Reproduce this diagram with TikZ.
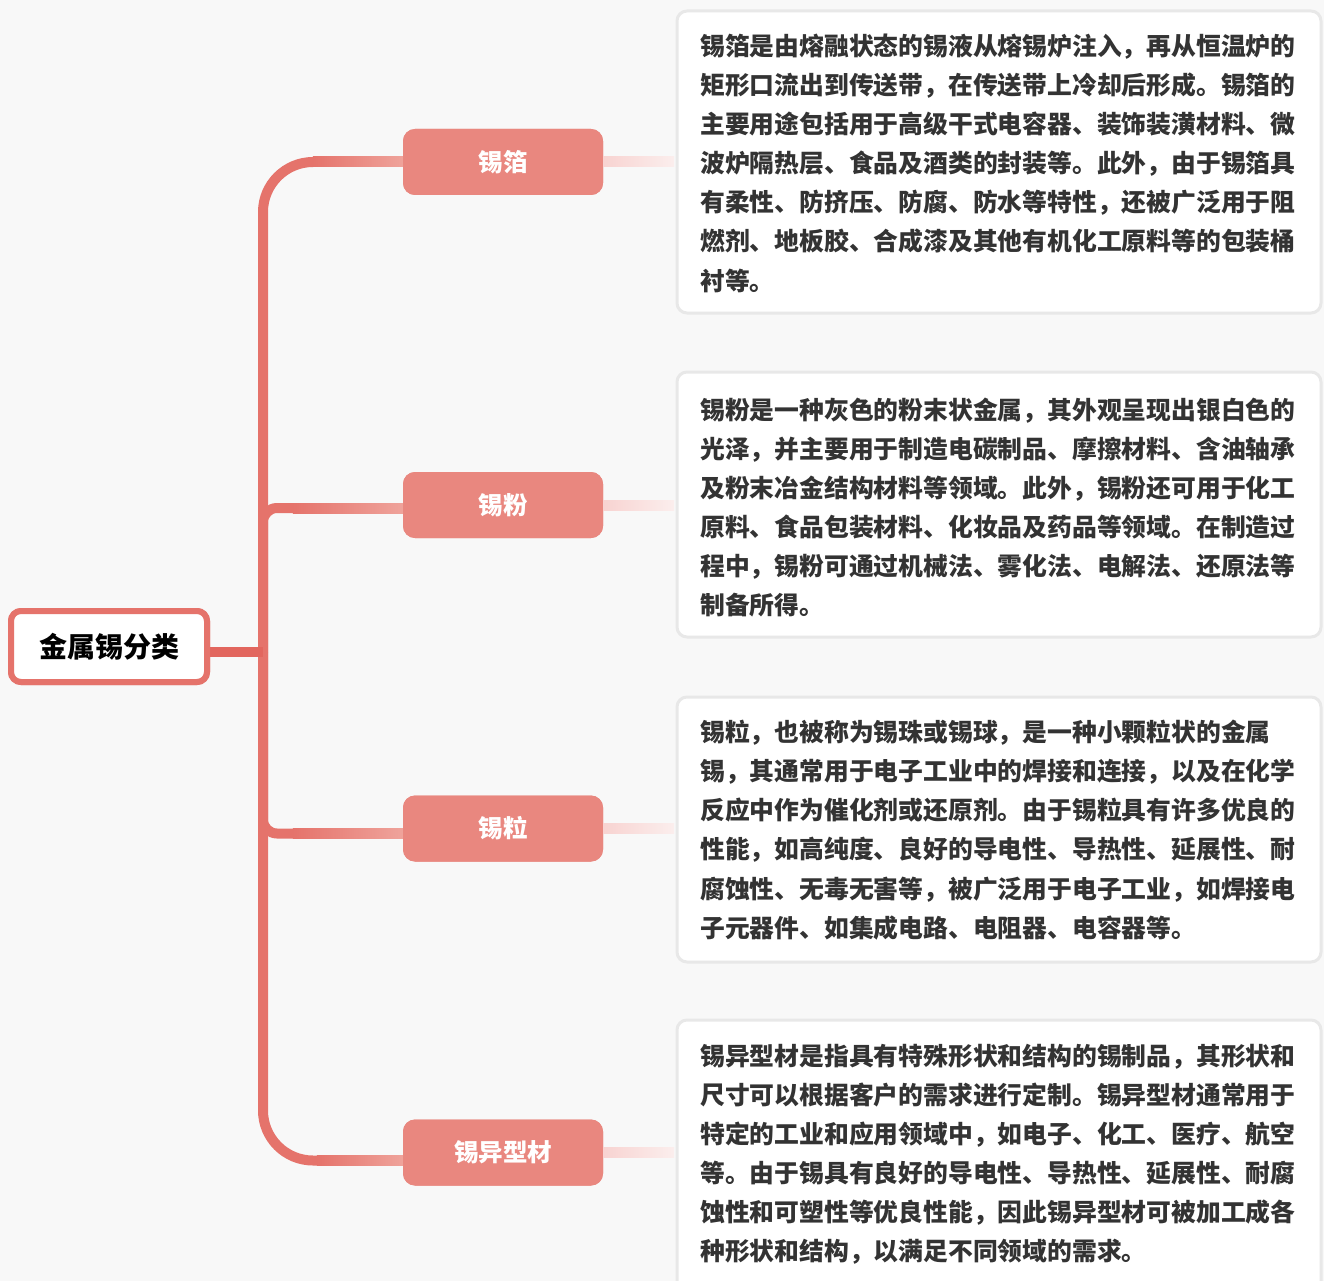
\documentclass[tikz,border=0pt]{standalone}
\usepackage{fontspec}
\newfontfamily\cjk{Noto Sans CJK SC}
\usetikzlibrary{calc}
\definecolor{bgc}{HTML}{F8F8F8}
\definecolor{trunkc}{HTML}{E5736B}
\definecolor{rootlinkc}{HTML}{E2665E}
\definecolor{branchlight}{HTML}{EFA39B}
\definecolor{catc}{HTML}{E9877F}
\definecolor{boxc}{HTML}{E8E8E8}
\definecolor{bodyc}{HTML}{333333}
\definecolor{pinkA}{HTML}{F8D3D1}
\definecolor{pinkB}{HTML}{FBEEED}
\begin{document}
\begin{tikzpicture}[x=1pt,y=-1pt,
  rootbox/.style={draw=trunkc, line width=6pt, fill=white, rounded corners=10pt,
    minimum width=196pt, minimum height=71pt, inner sep=0pt,
    font=\cjk\bfseries\fontsize{28}{34}\selectfont, text=black},
  catbox/.style={fill=catc, rounded corners=12pt, minimum width=200pt, minimum height=66pt,
    inner sep=0pt, text=white, font=\cjk\bfseries\fontsize{24.5}{30}\selectfont},
  textbox/.style={fill=white, draw=boxc, line width=3pt, rounded corners=10pt,
    minimum width=644pt, inner sep=0pt},
  bodyline/.style={anchor=base west, inner sep=0pt, text=bodyc,
    font=\cjk\bfseries\fontsize{24.8}{39}\selectfont},
  trunk/.style={draw=trunkc, line width=10pt},
  pinklink/.style={left color=pinkA, right color=pinkB},
  gradlink/.style={left color=trunkc, right color=branchlight}
]
\useasboundingbox (0,0) rectangle (1324,1281);
\clip (0,0) rectangle (1324,1281);
\fill[bgc] (0,0) rectangle (1324,1281);

% text boxes
\node[textbox, minimum height=302pt] (box1) at (999,162) {};
\node[textbox, minimum height=265pt] (box2) at (999,504.5) {};
\node[textbox, minimum height=265pt] (box3) at (999,829.5) {};
\node[textbox, minimum height=300pt] (box4) at (999,1170) {};

% nodes
\node[rootbox] (root) at (109,646.5) {金属锡分类};
\node[catbox] (c1) at (503,162) {锡箔};
\node[catbox] (c2) at (503,505) {锡粉};
\node[catbox] (c3) at (503,828.5) {锡粒};
\node[catbox] (c4) at (503,1152.5) {锡异型材};

% branch end coordinates
\coordinate (tx) at (263,652);
\coordinate (e1) at (c1.west);
\coordinate (e2) at ($(c2.west)+(0,3)$);
\coordinate (e3) at ($(c3.west)+(0,5)$);
\coordinate (e4) at ($(c4.west)+(0,8)$);

% connectors
\draw[trunk, rounded corners=50pt] (tx) |- (e1);
\draw[trunk, rounded corners=50pt] (tx) |- (e4);
\draw[trunk, rounded corners=14pt] (tx) |- (e2);
\draw[trunk, rounded corners=14pt] (tx) |- (e3);
\fill[gradlink] ($(e1)+(-90,-5)$) rectangle ($(e1)+(0,5)$);
\fill[gradlink] ($(e4)+(-86,-5)$) rectangle ($(e4)+(0,5)$);
\fill[gradlink] ($(e2)+(-110,-5)$) rectangle ($(e2)+(0,5)$);
\fill[gradlink] ($(e3)+(-110,-5)$) rectangle ($(e3)+(0,5)$);
\draw[draw=rootlinkc, line width=10pt] (root.east |- tx) -- (tx);

% redraw nodes on top of connectors
\node[catbox] at (c1) {锡箔};
\node[catbox] at (c2) {锡粉};
\node[catbox] at (c3) {锡粒};
\node[catbox] at (c4) {锡异型材};
\node[rootbox] at (root) {金属锡分类};

% pink links
\fill[pinklink] ($(c1.east)+(0,-5)$) rectangle ($(c1.east -| box1.west)+(-1.5,5)$);
\fill[pinklink] ($(c2.east)+(0,-5)$) rectangle ($(c2.east -| box2.west)+(-1.5,5)$);
\fill[pinklink] ($(c3.east)+(0,-5)$) rectangle ($(c3.east -| box3.west)+(-1.5,5)$);
\fill[pinklink] ($(c4.east)+(0,-5)$) rectangle ($(c4.east -| box4.west)+(-1.5,5)$);

% body text
\foreach \t [count=\i] in {
锡箔是由熔融状态的锡液从熔锡炉注入，再从恒温炉的,
矩形口流出到传送带，在传送带上冷却后形成。锡箔的,
主要用途包括用于高级干式电容器、装饰装潢材料、微,
波炉隔热层、食品及酒类的封装等。此外，由于锡箔具,
有柔性、防挤压、防腐、防水等特性，还被广泛用于阻,
燃剂、地板胶、合成漆及其他有机化工原料等的包装桶,
衬等。}
  \node[bodyline] (t1-\i) at (700,{56+(\i-1)*39}) {\t};

\foreach \t [count=\i] in {
锡粉是一种灰色的粉末状金属，其外观呈现出银白色的,
光泽，并主要用于制造电碳制品、摩擦材料、含油轴承,
及粉末冶金结构材料等领域。此外，锡粉还可用于化工,
原料、食品包装材料、化妆品及药品等领域。在制造过,
程中，锡粉可通过机械法、雾化法、电解法、还原法等,
制备所得。}
  \node[bodyline] (t2-\i) at (700,{419+(\i-1)*39}) {\t};

\foreach \t [count=\i] in {
锡粒，也被称为锡珠或锡球，是一种小颗粒状的金属,
锡，其通常用于电子工业中的焊接和连接，以及在化学,
反应中作为催化剂或还原剂。由于锡粒具有许多优良的,
性能，如高纯度、良好的导电性、导热性、延展性、耐,
腐蚀性、无毒无害等，被广泛用于电子工业，如焊接电,
子元器件、如集成电路、电阻器、电容器等。}
  \node[bodyline] (t3-\i) at (700,{741+(\i-1)*39.3}) {\t};

\foreach \t [count=\i] in {
锡异型材是指具有特殊形状和结构的锡制品，其形状和,
尺寸可以根据客户的需求进行定制。锡异型材通常用于,
特定的工业和应用领域中，如电子、化工、医疗、航空,
等。由于锡具有良好的导电性、导热性、延展性、耐腐,
蚀性和可塑性等优良性能，因此锡异型材可被加工成各,
种形状和结构，以满足不同领域的需求。}
  \node[bodyline] (t4-\i) at (700,{1065+(\i-1)*39}) {\t};
\end{tikzpicture}
\end{document}
